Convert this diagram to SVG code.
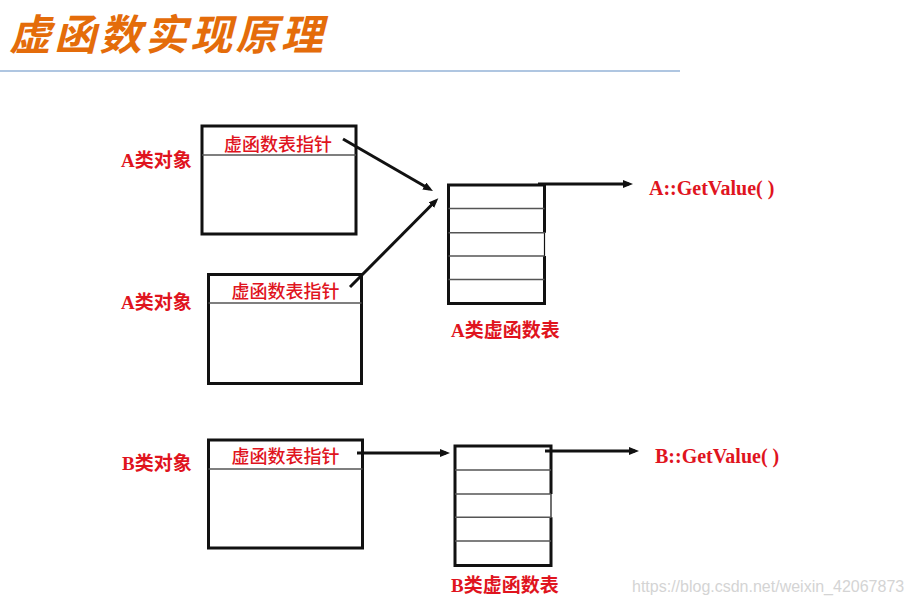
<svg xmlns="http://www.w3.org/2000/svg" width="912" height="605" viewBox="0 0 912 605">
<style>
.box{fill:#fff;stroke:#111;stroke-width:3}
.thick{stroke:#111;stroke-width:3;fill:none}
.thin{stroke:#111;stroke-width:1.2;fill:none}
.row{stroke:#555;stroke-width:1.5;fill:none}
.lbl{font-family:"Liberation Serif","Noto Sans CJK SC",serif;font-weight:bold;font-size:19px;fill:#E0141E}
.fn{font-size:20px}
.ptr{font-family:"Noto Sans CJK SC","Liberation Serif",sans-serif;font-weight:500;font-size:18px;fill:#E0141E;text-anchor:middle}
.conn{stroke:#111;stroke-width:3;fill:none;marker-end:url(#ah)}
</style>
<defs>
<marker id="ah" markerUnits="userSpaceOnUse" markerWidth="12" markerHeight="10" refX="6" refY="4" orient="auto">
<path d="M0,0 L10,4 L0,8 z" fill="#111"/>
</marker>
</defs>
<rect width="912" height="605" fill="#fff"/>
<g id="title">
<text x="9" y="50" font-family="Noto Sans CJK SC, sans-serif" font-size="42" font-weight="bold" font-style="italic" letter-spacing="3.3" fill="#E46C0A">虚函数实现原理</text>
<line x1="0" y1="71" x2="680" y2="71" stroke="#95B3D7" stroke-width="1.5"/>
</g>
<g id="node-objA1">
<rect class="box" x="202" y="126" width="154" height="108"/>
<line class="row" x1="202" y1="155" x2="356" y2="155"/>
<text class="ptr" x="278" y="150.5">虚函数表指针</text>
<text class="lbl" x="121" y="167">A类对象</text>
</g>
<g id="node-objA2">
<rect class="box" x="208.5" y="274.5" width="153" height="109"/>
<line class="row" x1="208.5" y1="303" x2="361.5" y2="303"/>
<text class="ptr" x="285.5" y="298">虚函数表指针</text>
<text class="lbl" x="121" y="309">A类对象</text>
</g>
<g id="node-objB">
<rect class="box" x="208.5" y="440" width="154" height="108"/>
<line class="row" x1="208.5" y1="469" x2="362.5" y2="469"/>
<text class="ptr" x="285.5" y="463">虚函数表指针</text>
<text class="lbl" x="122" y="470">B类对象</text>
</g>
<g id="node-vtableA">
<rect x="448.5" y="185" width="96" height="118.5" fill="#fff"/>
<polyline class="thick" points="544.5,232.7 544.5,185 448.5,185 448.5,303.5 544.5,303.5 544.5,256"/>
<line class="thin" x1="544.5" y1="232.7" x2="544.5" y2="256"/>
<line class="row" x1="448.5" y1="208.5" x2="544.5" y2="208.5"/>
<line class="row" x1="448.5" y1="232.7" x2="544.5" y2="232.7"/>
<line class="row" x1="448.5" y1="256" x2="544.5" y2="256"/>
<line class="row" x1="448.5" y1="279.5" x2="544.5" y2="279.5"/>
<text class="lbl" x="451" y="337">A类虚函数表</text>
</g>
<g id="node-vtableB">
<rect x="455" y="446" width="96" height="119.5" fill="#fff"/>
<polyline class="thick" points="551,494 551,446 455,446 455,565.5 551,565.5 551,517.3"/>
<line class="thin" x1="551" y1="494" x2="551" y2="517.3"/>
<line class="row" x1="455" y1="470" x2="551" y2="470"/>
<line class="row" x1="455" y1="494" x2="551" y2="494"/>
<line class="row" x1="455" y1="517.3" x2="551" y2="517.3"/>
<line class="row" x1="455" y1="541" x2="551" y2="541"/>
<text class="lbl" x="451" y="592">B类虚函数表</text>
</g>
<g id="node-funcA">
<text class="lbl fn" x="649" y="195">A::GetValue( )</text>
</g>
<g id="node-funcB">
<text class="lbl fn" x="655" y="463">B::GetValue( )</text>
</g>
<g id="connectors">
<line class="conn" x1="343" y1="139" x2="429.5" y2="189"/>
<line class="conn" x1="350" y1="287" x2="435.5" y2="201"/>
<line class="conn" x1="538" y1="184" x2="629" y2="184"/>
<line class="conn" x1="357" y1="453" x2="446" y2="453"/>
<line class="conn" x1="545" y1="451" x2="635" y2="451"/>
</g>
<text x="632" y="592" font-family="Liberation Sans, Arial, sans-serif" font-size="16" fill="#D4D4D4">https://blog.csdn.net/weixin_42067873</text>
</svg>
